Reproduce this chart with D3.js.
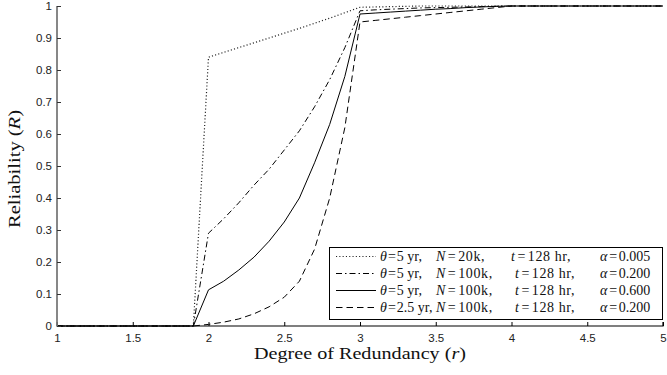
<!DOCTYPE html>
<html>
<head>
<meta charset="utf-8">
<script src="https://cdn.jsdelivr.net/npm/d3@7"></script>
<style>
  html, body { margin: 0; padding: 0; background: #fff; }
  svg { display: block; }
  .tick-label { font-family: "Liberation Sans", Arial, sans-serif; font-size: 11.5px; fill: #222; }
  .axis-title { font-family: "Liberation Serif", "Times New Roman", serif; font-size: 17px; fill: #111; }
  .legend-text { font-family: "Liberation Serif", "Times New Roman", serif; font-size: 14px; fill: #111; }
</style>
</head>
<body>
<svg id="chart" width="667" height="375"></svg>
<script>
// Degree of redundancy r (x axis)
const redundancy = [1.0,1.1,1.2,1.3,1.4,1.5,1.6,1.7,1.8,1.9,
                    2.0,2.1,2.2,2.3,2.4,2.5,2.6,2.7,2.8,2.9,
                    3.0,3.1,3.2,3.3,3.4,3.5,3.6,3.7,3.8,3.9,
                    4.0,4.1,4.2,4.3,4.4,4.5,4.6,4.7,4.8,4.9,5.0];

// Reliability R for each configuration
const relTheta5N20kA005 = [0,0,0,0,0,0,0,0,0,0,
  0.84,0.855,0.87,0.885,0.90,0.915,0.93,0.946,0.962,0.979,
  0.996,0.997,0.998,0.999,1,1,1,1,1,1,
  1,1,1,1,1,1,1,1,1,1,1];
const relTheta5N100kA200 = [0,0,0,0,0,0,0,0,0,0,
  0.29,0.335,0.385,0.44,0.49,0.55,0.61,0.685,0.77,0.87,
  0.985,0.988,0.99,0.992,0.994,0.995,0.996,0.997,0.998,0.999,
  1,1,1,1,1,1,1,1,1,1,1];
const relTheta5N100kA600 = [0,0,0,0,0,0,0,0,0,0,
  0.113,0.14,0.175,0.215,0.265,0.325,0.40,0.51,0.63,0.78,
  0.975,0.978,0.981,0.984,0.987,0.99,0.992,0.995,0.997,0.999,
  1,1,1,1,1,1,1,1,1,1,1];
const relTheta25N100kA200 = [0,0,0,0,0,0,0,0,0,0,
  0.005,0.012,0.022,0.038,0.06,0.09,0.14,0.24,0.40,0.62,
  0.95,0.955,0.96,0.965,0.97,0.975,0.98,0.985,0.99,0.995,
  1,1,1,1,1,1,1,1,1,1,1];

const xTicks = [1, 1.5, 2, 2.5, 3, 3.5, 4, 4.5, 5];
const yTicks = [0, 0.1, 0.2, 0.3, 0.4, 0.5, 0.6, 0.7, 0.8, 0.9, 1];

// Legend rows: theta, N, t, alpha
const legendTheta = ["5", "5", "5", "2.5"];
const legendN = ["20k", "100k", "100k", "100k"];
const legendT = ["128", "128", "128", "128"];
const legendAlpha = ["0.005", "0.200", "0.600", "0.200"];

const seriesList = [
  { values: relTheta5N20kA005,  dash: "1.1,2.2",     width: 1.2, color: "#222" },
  { values: relTheta5N100kA200, dash: "6,3,1.5,3",   width: 1,   color: "#000" },
  { values: relTheta5N100kA600, dash: null,          width: 1,   color: "#000" },
  { values: relTheta25N100kA200, dash: "6.5,4",      width: 1,   color: "#000" }
];

const svg = d3.select("#chart");
const margin = { left: 57, right: 4, top: 6, bottom: 49 };
const W = 667, H = 375;

const x = d3.scaleLinear().domain([1, 5]).range([margin.left, W - margin.right]);
const y = d3.scaleLinear().domain([0, 1]).range([H - margin.bottom, margin.top]);

// Curves
const line = d3.line().x((d, i) => x(redundancy[i])).y(d => y(d));
seriesList.forEach(s => {
  svg.append("path")
    .datum(s.values)
    .attr("fill", "none")
    .attr("stroke", s.color)
    .attr("stroke-width", s.width)
    .attr("stroke-dasharray", s.dash)
    .attr("d", line);
});

// X axis (ticks pointing inward)
const xAxis = d3.axisBottom(x).tickValues(xTicks).tickSize(-4).tickPadding(7)
  .tickFormat(d3.format("~g"));
const gx = svg.append("g").attr("transform", `translate(0,${y(0)})`).call(xAxis);
gx.select(".domain").attr("stroke", "#000").attr("stroke-width", 1.2).attr("d", `M${x(1)},-4V0H${x(5)}V-4`);
gx.selectAll(".tick line").attr("stroke", "#000");
gx.selectAll(".tick text").attr("class", "tick-label").attr("dy", "0.75em");

// Y axis (ticks pointing inward)
const yAxis = d3.axisLeft(y).tickValues(yTicks).tickSize(-4).tickPadding(5)
  .tickFormat(d3.format("~g"));
const gy = svg.append("g").attr("transform", `translate(${x(1)},0)`).call(yAxis);
gy.select(".domain").attr("stroke", "#7a7a7a").attr("stroke-width", 1.8).attr("d", `M0,${y(1)}V${y(0)}`);
gy.selectAll(".tick line").attr("stroke", "#333");
gy.selectAll(".tick text").attr("class", "tick-label");

// Axis titles
const xt = svg.append("text").attr("class", "axis-title")
  .attr("x", (x(1) + x(5)) / 2).attr("y", 359).attr("text-anchor", "middle")
  .attr("textLength", 212).attr("lengthAdjust", "spacingAndGlyphs");
xt.append("tspan").text("Degree of Redundancy (");
xt.append("tspan").attr("font-style", "italic").text("r");
xt.append("tspan").text(")");

const yt = svg.append("text").attr("class", "axis-title")
  .attr("transform", `translate(20,${(y(0) + y(1)) / 2 + 3}) rotate(-90)`)
  .attr("text-anchor", "middle")
  .attr("textLength", 118).attr("lengthAdjust", "spacingAndGlyphs");
yt.append("tspan").text("Reliability (");
yt.append("tspan").attr("font-style", "italic").text("R");
yt.append("tspan").text(")");

// Legend
const lg = svg.append("g");
lg.append("rect").attr("x", 329.5).attr("y", 247.5).attr("width", 333).attr("height", 72)
  .attr("fill", "#fff").attr("stroke", "#000").attr("stroke-width", 1);
const rowY = [256.5, 273.5, 290.5, 307.5];

// one "symbol = value" group with adjustable spacing around "="
function mathPair(t, xPos, sym, val, tail, gap, spacing) {
  t.append("tspan").attr("x", xPos).attr("font-style", "italic").text(sym);
  t.append("tspan").attr("dx", gap).text("=");
  t.append("tspan").attr("dx", gap).attr("letter-spacing", spacing).text(val + tail);
}

seriesList.forEach((s, i) => {
  lg.append("line").attr("x1", 336).attr("x2", 376).attr("y1", rowY[i]).attr("y2", rowY[i])
    .attr("stroke", s.color).attr("stroke-width", s.width).attr("stroke-dasharray", s.dash);
  const t = lg.append("text").attr("class", "legend-text").attr("y", rowY[i] + 4.5);
  mathPair(t, 380, "θ", legendTheta[i], " yr,", 1, 0);
  mathPair(t, 436, "N", legendN[i], ",", 2.5, 0.6);
  mathPair(t, i === 0 ? 511 : 515, "t", legendT[i], " hr,", 2.5, 0.6);
  mathPair(t, 600, "α", legendAlpha[i], "", 1.8, 0);
});
</script>
</body>
</html>
